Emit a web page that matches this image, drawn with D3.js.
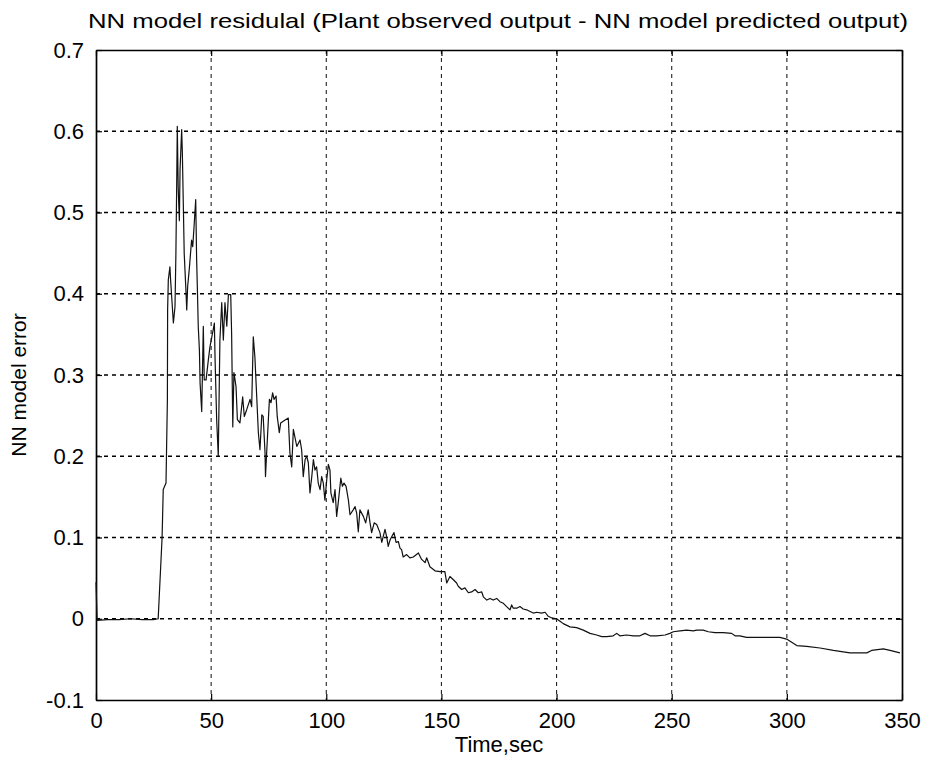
<!DOCTYPE html>
<html><head><meta charset="utf-8">
<script src="https://cdn.jsdelivr.net/npm/d3@7"></script>
<style>body{margin:0;background:#fff;} svg{display:block;}</style>
</head><body>
<svg id="chart" width="925" height="765"></svg>
<script>
const titleText = "NN model residulal (Plant observed output - NN model predicted output)";
const xLabel = "Time,sec";
const yLabel = "NN model error";
const xTicks = [0, 50, 100, 150, 200, 250, 300, 350];
const yTicks = [-0.1, 0, 0.1, 0.2, 0.3, 0.4, 0.5, 0.6, 0.7];
const yTickLabels = ["-0.1", "0", "0.1", "0.2", "0.3", "0.4", "0.5", "0.6", "0.7"];

// time (sec)
const timeSec = [0,0.5,5,10,15,20,25,27,28.7,29.2,30.4,31.0,31.1,31.4,32.1,32.4,33.6,34.3,34.7,35.0,35.3,35.7,36.2,36.5,37.2,37.5,37.9,38.3,39.1,39.4,39.8,40.5,41.5,42.0,42.5,43.3,43.7,44.0,44.4,44.9,45.2,45.9,46.6,47.0,47.8,48.8,49.5,50.9,51.4,51.7,52.4,53.1,53.8,54.6,55.3,56.0,56.8,57.5,58.5,58.9,59.4,59.9,60.8,61.4,62.5,63.7,64.4,65.4,66.9,67.6,68.3,69.0,69.8,70.5,71.2,72.0,72.6,73.4,73.6,74.1,75.3,76.0,76.7,77.3,78.2,78.7,79.6,80.2,81.3,83.5,84.2,85.0,85.7,87.2,88.6,89.3,90.0,90.8,91.5,92.2,92.9,93.7,94.4,95.1,95.8,96.5,97.3,98.0,98.7,99.4,100.2,100.9,101.6,102.0,103.0,103.8,104.5,105.2,106.3,107.0,107.7,108.6,109.6,110.3,111.7,112.5,113.2,113.9,114.6,116.1,117.1,118.2,119.0,119.7,120.8,121.9,123.3,124.1,125.5,126.2,126.9,127.7,128.4,129.4,130.3,131.3,132.0,132.7,133.4,134.9,136.3,137.8,140.0,141.4,142.9,143.6,145.0,147.2,149.4,151.5,152.3,153.7,155.2,156.6,157.3,158.8,160.2,161.7,163.1,164.6,166.0,167.5,168.2,169.7,171.1,172.5,174.0,175.4,176.9,178.3,179.8,180.5,181.2,182.7,184.1,185.5,187.0,188.5,189.9,191.4,193.5,195.0,196.4,197.9,200.0,201.5,202.9,205.8,208.7,211.6,214.5,217.4,219.6,221.8,224.6,226.1,227.5,230.4,233.3,236.2,238.4,240.6,243.5,247.1,249.2,250.7,253.6,256.5,259.4,260.8,263.7,265.9,268.8,272.4,276.0,277.5,279.6,282.5,289.8,297.0,299.9,302.1,304.3,308.6,314.4,320.2,327.4,334.7,336.8,341.9,344.8,349.1];
// NN model error
const modelError = [0.045,-0.002,-0.001,-0.001,0,-0.001,-0.001,0,0.10,0.159,0.167,0.27,0.38,0.417,0.433,0.417,0.364,0.384,0.45,0.524,0.606,0.53,0.49,0.553,0.602,0.573,0.512,0.45,0.401,0.38,0.409,0.43,0.466,0.458,0.479,0.516,0.442,0.409,0.36,0.331,0.29,0.255,0.36,0.294,0.294,0.319,0.335,0.356,0.364,0.32,0.245,0.2,0.343,0.389,0.343,0.389,0.36,0.399,0.399,0.35,0.236,0.303,0.286,0.245,0.241,0.273,0.249,0.257,0.27,0.261,0.347,0.322,0.273,0.229,0.208,0.251,0.249,0.204,0.175,0.204,0.27,0.266,0.278,0.27,0.274,0.249,0.229,0.241,0.243,0.247,0.204,0.187,0.233,0.212,0.22,0.208,0.175,0.196,0.2,0.192,0.155,0.175,0.196,0.183,0.187,0.167,0.159,0.175,0.167,0.146,0.171,0.19,0.183,0.155,0.143,0.159,0.126,0.143,0.173,0.163,0.167,0.163,0.146,0.128,0.134,0.138,0.13,0.107,0.134,0.126,0.118,0.134,0.118,0.106,0.118,0.116,0.106,0.094,0.11,0.101,0.089,0.097,0.101,0.106,0.094,0.095,0.087,0.085,0.076,0.079,0.075,0.076,0.081,0.073,0.069,0.075,0.064,0.059,0.058,0.058,0.044,0.052,0.048,0.044,0.04,0.036,0.038,0.032,0.033,0.036,0.032,0.033,0.027,0.023,0.025,0.023,0.025,0.021,0.019,0.015,0.011,0.017,0.013,0.013,0.015,0.012,0.011,0.009,0.007,0.008,0.007,0.008,0.003,0.001,0,-0.003,-0.006,-0.01,-0.011,-0.014,-0.018,-0.02,-0.022,-0.022,-0.021,-0.018,-0.021,-0.02,-0.021,-0.021,-0.018,-0.021,-0.021,-0.02,-0.018,-0.016,-0.015,-0.014,-0.015,-0.014,-0.014,-0.016,-0.017,-0.017,-0.018,-0.021,-0.021,-0.023,-0.023,-0.023,-0.025,-0.029,-0.033,-0.034,-0.036,-0.039,-0.042,-0.042,-0.039,-0.037,-0.039,-0.042];

const W = 925, H = 765;
const m = {left: 96, right: 23, top: 50, bottom: 65};
const svg = d3.select("#chart");
const x = d3.scaleLinear().domain([0, 350]).range([m.left, W - m.right]);
const y = d3.scaleLinear().domain([-0.1, 0.7]).range([H - m.bottom, m.top]);
const font = "'Liberation Sans', Arial, Helvetica, sans-serif";

// grid
const g = svg.append("g");
g.selectAll(".vg").data(xTicks.slice(1, -1)).join("line")
  .attr("x1", d => x(d)).attr("x2", d => x(d))
  .attr("y1", y(0.7)).attr("y2", y(-0.1))
  .attr("stroke", "#222").attr("stroke-width", 1.1).attr("stroke-dasharray", "4,4");
g.selectAll(".hg").data(yTicks.slice(1, -1)).join("line")
  .attr("y1", d => y(d)).attr("y2", d => y(d))
  .attr("x1", x(0)).attr("x2", x(350))
  .attr("stroke", "#000").attr("stroke-width", 1.3).attr("stroke-dasharray", "4,4");

// axes (ticks inward)
const tickLen = 6;
const xAxisB = d3.axisBottom(x).tickValues(xTicks).tickSizeInner(-tickLen).tickSizeOuter(0).tickPadding(12).tickFormat(d3.format("d"));
const xAxisT = d3.axisTop(x).tickValues(xTicks).tickSizeInner(-tickLen).tickSizeOuter(0).tickFormat("");
const yAxisL = d3.axisLeft(y).tickValues(yTicks).tickSizeInner(-tickLen).tickSizeOuter(0).tickPadding(12).tickFormat((d, i) => yTickLabels[i]);
const yAxisR = d3.axisRight(y).tickValues(yTicks).tickSizeInner(-tickLen).tickSizeOuter(0).tickFormat("");

function style(sel) {
  sel.selectAll("path").attr("stroke", "#000").attr("stroke-width", 1.7);
  sel.selectAll("line").attr("stroke", "#000").attr("stroke-width", 1.2);
  sel.selectAll("text").attr("font-family", font).attr("font-size", 22).attr("fill", "#000");
}
svg.append("g").attr("transform", `translate(0,${y(-0.1)})`).call(xAxisB).call(style);
svg.append("g").attr("transform", `translate(0,${y(0.7)})`).call(xAxisT).call(style);
svg.append("g").attr("transform", `translate(${x(0)},0)`).call(yAxisL).call(style);
svg.append("g").attr("transform", `translate(${x(350)},0)`).call(yAxisR).call(style);

// data line
const pts = timeSec.map((t, i) => [t, modelError[i]]);
svg.append("path").datum(pts)
  .attr("fill", "none").attr("stroke", "#111").attr("stroke-width", 1.2)
  .attr("stroke-linejoin", "round")
  .attr("d", d3.line().x(d => x(d[0])).y(d => y(d[1])));

// labels
svg.append("text").attr("x", 498).attr("y", 28)
  .attr("text-anchor", "middle").attr("font-family", font).attr("font-size", 21)
  .attr("textLength", 820).attr("lengthAdjust", "spacingAndGlyphs").text(titleText);
svg.append("text").attr("x", (x(0) + x(350)) / 2).attr("y", 752)
  .attr("text-anchor", "middle").attr("font-family", font).attr("font-size", 22).text(xLabel);
svg.append("text").attr("transform", `translate(26,385) rotate(-90)`)
  .attr("text-anchor", "middle").attr("font-family", font).attr("font-size", 21).text(yLabel);
</script>
</body></html>
